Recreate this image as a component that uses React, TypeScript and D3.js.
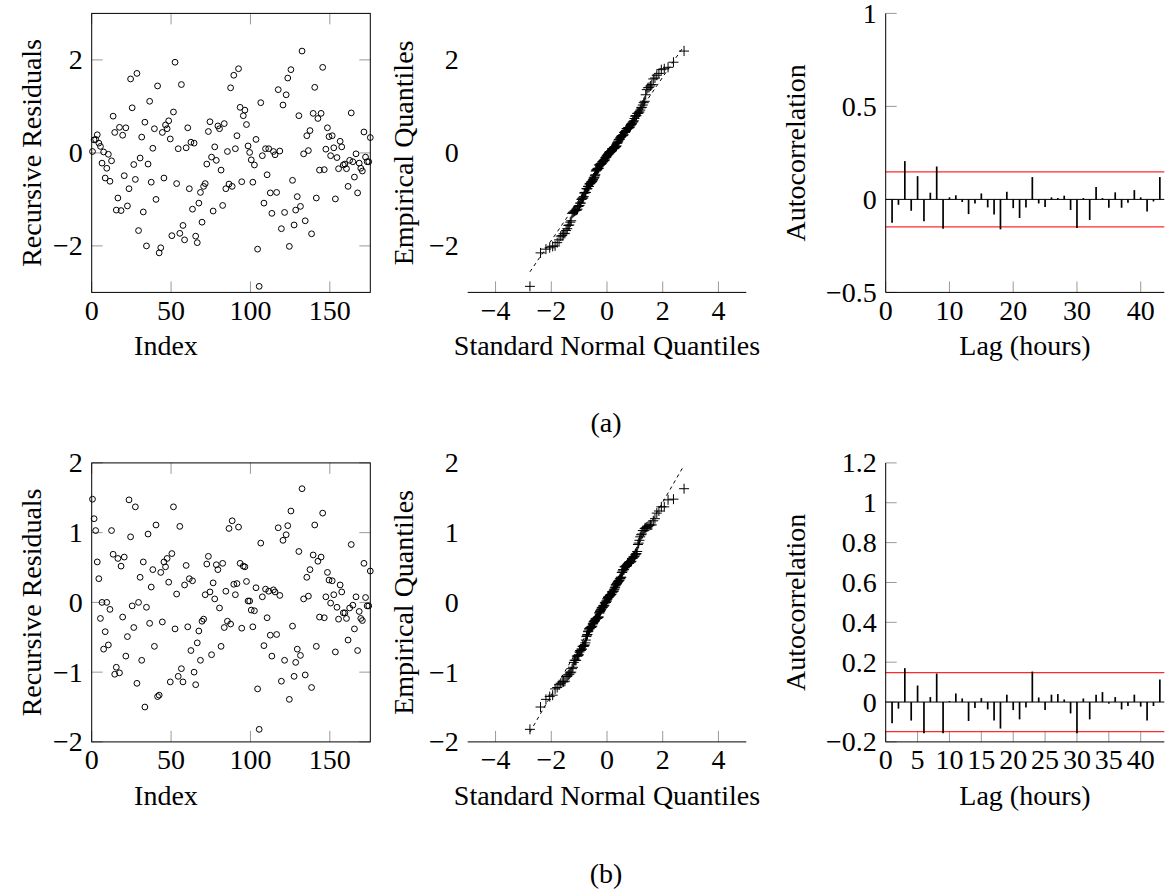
import React from "react";
import * as d3 from "d3";

// ---------------- data ----------------
const residualsA = [
  0.03, 0.28, 0.29, 0.39, 0.21, 0.14, -0.22, 0.02, -0.54, -0.33,
  -0.03, -0.61, -0.17, 0.79, 0.44, -1.23, -0.97, 0.55, -1.24, 0.38,
  -0.49, 0.54, -1.14, -0.77, 1.59, 0.97, -0.25, -0.57, 1.71, -1.67,
  -0.11, 0.34, -1.27, 0.66, -2.0, -0.24, 1.11, -0.63, 0.1, 0.52,
  -1.0, 1.44, -2.15, -2.04, 0.44, -0.54, 0.6, 0.52, 0.69, 0.3,
  -1.78, 0.88, 1.95, -0.66, 0.09, -1.73, 1.47, -1.56, -1.87, 0.11,
  0.54, -0.77, 0.23, -1.21, 0.21, -1.79, -1.93, -1.08, -0.85, -1.49,
  -0.72, -0.66, -0.24, 0.46, 0.67, -0.09, -1.25, 0.13, -0.16, 0.58,
  0.52, -0.37, -1.13, 0.63, -0.77, 0.03, -0.67, 1.4, -0.72, 1.67,
  0.09, 0.37, 1.81, 0.98, -0.62, 0.8, 0.92, 0.61, 0.15, 0.01,
  -0.15, -0.63, -0.26, 0.29, -2.07, -2.87, 1.08, -0.06, -1.08, 0.09,
  -0.47, 0.09, -0.86, -1.3, 0.03, -0.04, -0.85, 1.36, 0.04, -1.63,
  1.03, -1.28, 1.25, 1.61, -2.01, 1.79, -0.59, -1.55, -1.23, -0.94,
  0.8, -1.15, 2.19, -0.02, -1.46, 0.37, 0.05, 0.48, -1.74, 0.85,
  1.41, -0.97, 0.74, -0.37, 0.85, 1.84, -0.36, 0.08, 0.54, 0.35,
  -0.06, 0.37, 0.11, -0.99, -0.1, -0.34, 0.25, 0.13, -0.26, -0.24,
  -0.34, -0.72, -0.16, 0.86, -0.19, -0.52, -0.02, -0.86, -0.22, -0.33,
  -0.39, 0.45, -0.09, -0.19, -0.19, 0.33,
];

const residualsB = [
  1.48, 1.2, 1.03, 0.58, 0.34, -0.23, 0.0, -0.67, -0.42, 0.0,
  -0.61, -0.1, 1.03, 0.69, -1.03, -0.93, 0.63, -1.01, 0.52, -0.21,
  0.65, -0.77, -0.49, 1.47, 0.94, -0.05, -0.36, 1.37, -1.16, 0.0,
  0.36, -0.83, 0.58, -1.5, -0.07, 0.98, -0.3, 0.22, 0.47, -0.63,
  1.11, -1.35, -1.33, 0.43, -0.28, 0.58, 0.51, 0.63, 0.29, -1.14,
  0.7, 1.37, -0.38, 0.12, -1.06, 1.09, -0.95, -1.14, 0.25, 0.53,
  -0.35, 0.34, -0.69, 0.31, -1.0, -1.18, -0.58, -0.41, -0.83, -0.27,
  -0.24, 0.11, 0.55, 0.66, 0.15, -0.75, 0.28, 0.05, 0.54, 0.47,
  -0.08, -0.63, 0.56, -0.36, 0.16, -0.27, 1.06, -0.31, 1.17, 0.26,
  0.11, 0.27, 1.08, 0.56, -0.37, 0.52, 0.51, 0.3, 0.02, 0.02,
  -0.11, -0.35, -0.12, 0.21, -1.24, -1.82, 0.85, 0.08, -0.62, 0.19,
  -0.22, 0.16, -0.47, -0.77, 0.18, 0.15, -0.46, 1.07, 0.1, -1.13,
  0.89, -0.83, 0.97, 1.1, -1.39, 1.31, -0.34, -1.06, -0.86, -0.67,
  0.73, -0.76, 1.63, 0.05, -1.04, 0.36, 0.09, 0.47, -1.22, 0.68,
  1.11, -0.63, 0.59, -0.21, 0.65, 1.28, -0.22, 0.08, 0.43, 0.32,
  -0.01, 0.31, 0.11, -0.71, -0.07, -0.24, 0.25, 0.15, -0.15, -0.15,
  -0.23, -0.54, -0.08, 0.83, -0.04, -0.38, 0.08, -0.69, -0.13, -0.23,
  -0.26, 0.56, 0.07, -0.05, -0.05, 0.45,
];

const acfA = [
  -0.125, -0.029, 0.206, -0.061, 0.125, -0.118, 0.036, 0.177, -0.158, 0.011,
  0.022, -0.014, -0.079, -0.022, 0.032, -0.043, -0.081, -0.161, 0.041, -0.047,
  -0.1, -0.043, 0.12, -0.022, -0.041, 0.011, 0.007, 0.02, -0.057, -0.154,
  0.007, -0.111, 0.066, 0.007, -0.045, 0.038, -0.045, -0.018, 0.05, 0.011,
  -0.065, -0.011, 0.12,
];

const acfB = [
  -0.107, -0.033, 0.17, -0.093, 0.083, -0.157, 0.025, 0.143, -0.157, 0.005,
  0.043, 0.018, -0.095, -0.03, 0.02, -0.037, -0.092, -0.133, 0.037, -0.04,
  -0.087, -0.027, 0.153, 0.023, -0.04, 0.037, 0.04, 0.013, -0.057, -0.157,
  0.018, -0.087, 0.037, 0.05, -0.008, 0.025, -0.037, -0.02, 0.037, -0.023,
  -0.093, -0.02, 0.113,
];

const confBound = 0.148;

const scatterXTicks = [0, 50, 100, 150];
const scatterYTicksA = [-2, 0, 2];
const scatterYTicksB = [-2, -1, 0, 1, 2];
const qqXTicks = [-4, -2, 0, 2, 4];
const acfXTicksA = [0, 10, 20, 30, 40];
const acfXTicksB = [0, 5, 10, 15, 20, 25, 30, 35, 40];
const acfYTicksA = [-0.5, 0, 0.5, 1];
const acfYTicksB = [-0.2, 0, 0.2, 0.4, 0.6, 0.8, 1, 1.2];

// ---------------- layout ----------------
const W = 278.6;
const H = 279;
const COLS = [91.7, 467.7, 885.7];
const ROWS = [13.4, 462.9];
const FONT = "Liberation Serif, Times New Roman, serif";
const FS = 28;
const TICK = 11;
const TICKCOL = "#9a9a9a";

const fmt = (v: number) => {
  const s = String(v);
  return v < 0 ? "\u2212" + s.slice(1) : s;
};

function normInv(p: number): number {
  const a = [-39.69683028665376, 220.9460984245205, -275.9285104469687, 138.357751867269, -30.66479806614716, 2.506628277459239];
  const b = [-54.47609879822406, 161.5858368580409, -155.6989798598866, 66.80131188771972, -13.28068155288572];
  const c = [-0.007784894002430293, -0.3223964580411365, -2.400758277161838, -2.549732539343734, 4.374664141464968, 2.938163982698783];
  const d = [0.007784695709041462, 0.3224671290700398, 2.445134137142996, 3.754408661907416];
  const pl = 0.02425;
  if (p < pl) {
    const q = Math.sqrt(-2 * Math.log(p));
    return (((((c[0] * q + c[1]) * q + c[2]) * q + c[3]) * q + c[4]) * q + c[5]) /
      ((((d[0] * q + d[1]) * q + d[2]) * q + d[3]) * q + 1);
  }
  if (p <= 1 - pl) {
    const q = p - 0.5;
    const r = q * q;
    return ((((((a[0] * r + a[1]) * r + a[2]) * r + a[3]) * r + a[4]) * r + a[5]) * q) /
      (((((b[0] * r + b[1]) * r + b[2]) * r + b[3]) * r + b[4]) * r + 1);
  }
  const q = Math.sqrt(-2 * Math.log(1 - p));
  return -(((((c[0] * q + c[1]) * q + c[2]) * q + c[3]) * q + c[4]) * q + c[5]) /
    ((((d[0] * q + d[1]) * q + d[2]) * q + d[3]) * q + 1);
}

function XTickLabels({ ticks, scale, y }: { ticks: number[]; scale: d3.ScaleLinear<number, number>; y: number }) {
  return (
    <g>
      {ticks.map((t) => (
        <text key={t} x={scale(t)} y={y + 27.5} textAnchor="middle">
          {fmt(t)}
        </text>
      ))}
    </g>
  );
}

function YTickLabels({ ticks, scale, x }: { ticks: number[]; scale: d3.ScaleLinear<number, number>; x: number }) {
  return (
    <g>
      {ticks.map((t) => (
        <text key={t} x={x - 9} y={scale(t)} dy="0.34em" textAnchor="end">
          {fmt(t)}
        </text>
      ))}
    </g>
  );
}

function YLabel({ x, y, label }: { x: number; y: number; label: string }) {
  return (
    <text
      transform={`translate(${x},${y}) rotate(-90)`}
      textAnchor="middle"
      dominantBaseline="central"
    >
      {label}
    </text>
  );
}

function Scatter({ x0, y0, data, yDomain, yTicks }: { x0: number; y0: number; data: number[]; yDomain: [number, number]; yTicks: number[] }) {
  const xs = d3.scaleLinear().domain([0, 175.5]).range([x0, x0 + W]);
  const ys = d3.scaleLinear().domain(yDomain).range([y0 + H, y0]);
  return (
    <g>
      {scatterXTicks.map((t) => (
        <g key={"xt" + t} stroke={TICKCOL} strokeWidth={1}>
          <line x1={xs(t)} x2={xs(t)} y1={y0 + H} y2={y0 + H - TICK} />
          <line x1={xs(t)} x2={xs(t)} y1={y0} y2={y0 + TICK} />
        </g>
      ))}
      {yTicks.map((t) => (
        <g key={"yt" + t} stroke={TICKCOL} strokeWidth={1}>
          <line x1={x0} x2={x0 + TICK} y1={ys(t)} y2={ys(t)} />
          <line x1={x0 + W} x2={x0 + W - TICK} y1={ys(t)} y2={ys(t)} />
        </g>
      ))}
      {data.map((v, i) => (
        <circle key={i} cx={xs(i + 0.5)} cy={ys(v)} r={2.9} fill="none" stroke="#000" strokeWidth={1} />
      ))}
      <rect x={x0} y={y0} width={W} height={H} fill="none" stroke="#000" strokeWidth={1} />
      <XTickLabels ticks={scatterXTicks} scale={xs} y={y0 + H} />
      <YTickLabels ticks={yTicks} scale={ys} x={x0} />
      <text x={166} y={y0 + H + 63} textAnchor="middle">Index</text>
      <YLabel x={31} y={y0 + H / 2} label="Recursive Residuals" />
    </g>
  );
}

function QQ({ x0, y0, data, yDomain, yTicks }: { x0: number; y0: number; data: number[]; yDomain: [number, number]; yTicks: number[] }) {
  const xs = d3.scaleLinear().domain([-5, 5]).range([x0, x0 + W]);
  const ys = d3.scaleLinear().domain(yDomain).range([y0 + H, y0]);
  const sorted = data.slice().sort(d3.ascending);
  const n = sorted.length;
  const pts = sorted.map((v, i) => ({ q: normInv((i + 0.5) / n), v }));
  const q1 = d3.quantile(sorted, 0.25) as number;
  const q3 = d3.quantile(sorted, 0.75) as number;
  const z = normInv(0.75);
  const slope = (q3 - q1) / (2 * z);
  const mid = (q1 + q3) / 2;
  const qMin = pts[0].q;
  const qMax = pts[n - 1].q;
  const line = d3.line<number>().x((q) => xs(q)).y((q) => ys(mid + slope * q));
  return (
    <g>
      {qqXTicks.map((t) => (
        <line key={"xt" + t} x1={xs(t)} x2={xs(t)} y1={y0 + H} y2={y0 + H - TICK} stroke={TICKCOL} strokeWidth={1} />
      ))}
      <path d={line([qMin, qMax]) || ""} fill="none" stroke="#000" strokeWidth={1} strokeDasharray="3.5 3.5" />
      {pts.map((p, i) => {
        const cx = xs(p.q);
        const cy = ys(p.v);
        return (
          <path
            key={i}
            d={`M${cx - 5},${cy}H${cx + 5}M${cx},${cy - 5}V${cy + 5}`}
            stroke="#000"
            strokeWidth={1}
            fill="none"
          />
        );
      })}
      <line x1={x0} x2={x0 + W} y1={y0 + H} y2={y0 + H} stroke="#000" strokeWidth={1} />
      <XTickLabels ticks={qqXTicks} scale={xs} y={y0 + H} />
      <YTickLabels ticks={yTicks} scale={ys} x={x0} />
      <text x={x0 + W / 2} y={y0 + H + 63} textAnchor="middle">Standard Normal Quantiles</text>
      <YLabel x={x0 - 64} y={y0 + H / 2} label="Empirical Quantiles" />
    </g>
  );
}

function ACF({ x0, y0, data, yDomain, yTicks, xTicks }: { x0: number; y0: number; data: number[]; yDomain: [number, number]; yTicks: number[]; xTicks: number[] }) {
  const xs = d3.scaleLinear().domain([0, 43.7]).range([x0, x0 + W]);
  const ys = d3.scaleLinear().domain(yDomain).range([y0 + H, y0]);
  return (
    <g>
      {xTicks.map((t) => (
        <line key={"xt" + t} x1={xs(t)} x2={xs(t)} y1={y0 + H} y2={y0 + H - TICK} stroke={TICKCOL} strokeWidth={1} />
      ))}
      {yTicks.map((t) => (
        <line key={"yt" + t} x1={x0} x2={x0 + TICK} y1={ys(t)} y2={ys(t)} stroke={TICKCOL} strokeWidth={1} />
      ))}
      <line x1={x0} x2={x0 + W} y1={ys(confBound)} y2={ys(confBound)} stroke="#ff2a2a" strokeWidth={1.3} />
      <line x1={x0} x2={x0 + W} y1={ys(-confBound)} y2={ys(-confBound)} stroke="#ff2a2a" strokeWidth={1.3} />
      <line x1={x0} x2={x0 + W} y1={ys(0)} y2={ys(0)} stroke="#000" strokeWidth={1} />
      {data.map((v, i) => (
        <line key={i} x1={xs(i + 1)} x2={xs(i + 1)} y1={ys(0)} y2={ys(v)} stroke="#000" strokeWidth={1.7} />
      ))}
      <line x1={x0} x2={x0} y1={y0} y2={y0 + H} stroke="#000" strokeWidth={1} />
      <line x1={x0} x2={x0 + W} y1={y0 + H} y2={y0 + H} stroke="#000" strokeWidth={1} />
      <XTickLabels ticks={xTicks} scale={xs} y={y0 + H} />
      <YTickLabels ticks={yTicks} scale={ys} x={x0} />
      <text x={x0 + W / 2} y={y0 + H + 63} textAnchor="middle">Lag (hours)</text>
      <YLabel x={795} y={y0 + H / 2} label="Autocorrelation" />
    </g>
  );
}

export default function App() {
  return (
    <svg
      width={1169}
      height={892}
      viewBox="0 0 1169 892"
      fontFamily={FONT}
      fontSize={FS}
      fill="#000"
      style={{ position: "absolute", left: 0, top: 0, background: "#fff" }}
    >
      <rect x={0} y={0} width={1169} height={892} fill="#fff" />
      <Scatter x0={COLS[0]} y0={ROWS[0]} data={residualsA} yDomain={[-3, 3]} yTicks={scatterYTicksA} />
      <QQ x0={COLS[1]} y0={ROWS[0]} data={residualsA} yDomain={[-3, 3]} yTicks={scatterYTicksA} />
      <ACF x0={COLS[2]} y0={ROWS[0]} data={acfA} yDomain={[-0.5, 1]} yTicks={acfYTicksA} xTicks={acfXTicksA} />
      <text x={606} y={432} textAnchor="middle">(a)</text>

      <Scatter x0={COLS[0]} y0={ROWS[1]} data={residualsB} yDomain={[-2, 2]} yTicks={scatterYTicksB} />
      <QQ x0={COLS[1]} y0={ROWS[1]} data={residualsB} yDomain={[-2, 2]} yTicks={scatterYTicksB} />
      <ACF x0={COLS[2]} y0={ROWS[1]} data={acfB} yDomain={[-0.2, 1.2]} yTicks={acfYTicksB} xTicks={acfXTicksB} />
      <text x={606} y={883} textAnchor="middle">(b)</text>
    </svg>
  );
}
